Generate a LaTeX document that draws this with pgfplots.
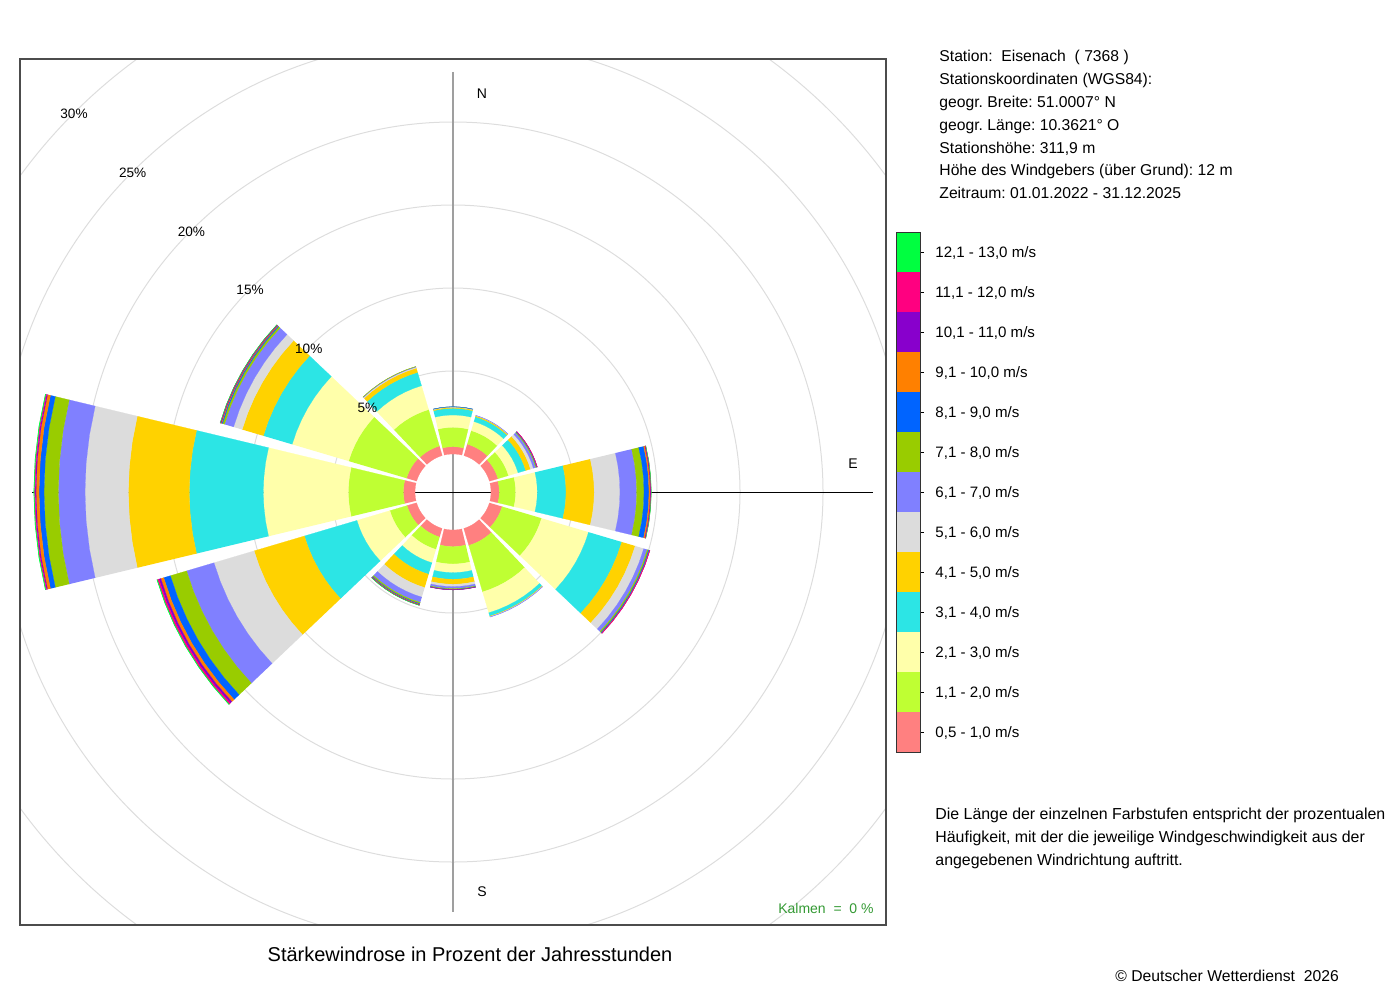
\documentclass[border=0pt]{standalone}
\usepackage{fontspec}
\setmainfont{Liberation Sans}
\usepackage{pgfplots}
\usepackage{pgfplotstable}
\pgfplotsset{compat=1.18}

\definecolor{wc1}{HTML}{FF8080}
\definecolor{wc2}{HTML}{BFFF33}
\definecolor{wc3}{HTML}{FFFFAA}
\definecolor{wc4}{HTML}{2CE5E5}
\definecolor{wc5}{HTML}{FFD200}
\definecolor{wc6}{HTML}{DCDCDC}
\definecolor{wc7}{HTML}{8080FF}
\definecolor{wc8}{HTML}{99CC00}
\definecolor{wc9}{HTML}{0064FF}
\definecolor{wc10}{HTML}{FF8000}
\definecolor{wc11}{HTML}{8800CC}
\definecolor{wc12}{HTML}{FF0080}
\definecolor{wc13}{HTML}{00FF40}
\definecolor{ringgray}{HTML}{DDDDDD}
\definecolor{kalmgreen}{HTML}{339933}

% percentage of hours per direction (compass degrees) and speed class
\pgfplotstableread{
dir c1   c2   c3   c4   c5   c6   c7   c8    c9    c10  c11   c12   c13
0   0.44 1.17 0.74 0.40 0.06 0.02 0.01 0.005 0.005 0    0     0     0
30  0.72 0.85 0.57 0.30 0.07 0.01 0.01 0     0     0    0     0     0
60  0.54 0.66 0.60 0.48 0.30 0.18 0.15 0.05  0.03  0.01 0.005 0.005 0
90  0.50 0.99 1.30 1.73 1.70 1.55 1.01 0.44  0.30  0.08 0.03  0.02  0.01
120 0.80 2.48 2.95 2.09 0.84 0.54 0.22 0.08  0.05  0.02 0.01  0.01  0
150 1.07 2.92 1.31 0.21 0.03 0.02 0.01 0     0     0    0     0     0
180 1.00 1.05 0.52 0.40 0.30 0.14 0.12 0.04  0.02  0.01 0.01  0     0
210 0.54 0.78 0.84 0.72 0.84 0.60 0.33 0.08  0.04  0.03 0.02  0.01  0.01
240 0.60 1.08 2.07 3.30 3.16 2.52 1.72 1.02  0.42  0.18 0.12  0.10  0.03
270 0.70 3.32 5.12 4.46 3.67 2.61 1.61 0.86  0.30  0.18 0.06  0.05  0.03
300 0.63 3.64 3.55 1.81 1.33 0.54 0.57 0.12  0.06  0.04 0.03  0.02  0.01
330 0.60 2.29 1.50 0.84 0.27 0.06 0.03 0.01  0     0    0     0     0
}\windtable

\def\rzero{38}
\def\rscale{16.6}
\def\halfw{13.5}

% builds one annular band of a sector as an \addplot and appends it to \allplots
\newcommand{\makeband}[4]{%
  \gdef\bandpts{}%
  \foreach \k in {0,1,2,3,4,5,6}{%
    \pgfmathsetmacro\myang{#1-\halfw+4.5*\k}%
    \pgfmathsetmacro\px{#3*sin(\myang)}%
    \pgfmathsetmacro\py{#3*cos(\myang)}%
    \xdef\bandpts{\bandpts (\px,\py)}%
  }%
  \foreach \k in {6,5,4,3,2,1,0}{%
    \pgfmathsetmacro\myang{#1-\halfw+4.5*\k}%
    \pgfmathsetmacro\px{#2*sin(\myang)}%
    \pgfmathsetmacro\py{#2*cos(\myang)}%
    \xdef\bandpts{\bandpts (\px,\py)}%
  }%
  \xdef\allplots{\unexpanded\expandafter{\allplots}\noexpand\addplot[fill=#4, draw=#4, line width=0.1pt, forget plot] coordinates {\bandpts};}%
}

\gdef\allplots{}
\foreach \i in {0,...,11}{%
  \edef\tmpget{\noexpand\pgfplotstablegetelem{\i}{dir}\noexpand\of\noexpand\windtable}\tmpget
  \xdef\dir{\pgfplotsretval}%
  \gdef\cum{0}%
  \foreach \j in {1,...,13}{%
    \edef\tmpget{\noexpand\pgfplotstablegetelem{\i}{c\j}\noexpand\of\noexpand\windtable}\tmpget
    \xdef\val{\pgfplotsretval}%
    \ifdim\val pt>0pt
      \pgfmathsetmacro\rin{\rzero+\rscale*\cum}%
      \pgfmathsetmacro\newcum{\cum+\val}%
      \xdef\cum{\newcum}%
      \pgfmathsetmacro\rout{\rzero+\rscale*\cum}%
      \makeband{\dir}{\rin}{\rout}{wc\j}%
    \fi
  }%
}

\begin{document}\frenchspacing
\begin{tikzpicture}[x=0.5pt,y=-0.5pt]
\path[use as bounding box] (0,0) rectangle (1400,1000);

% rings
\begin{scope}
\clip (20,59) rectangle (886,925);
\foreach \r in {121,204,287,370,453,536}{%
  \draw[ringgray, line width=0.5pt] (453,492) circle[radius=\r*0.5pt];}
\end{scope}
% axes lines
\draw[gray!75, line width=0.75pt] (453,72) -- (453,912);
\draw[black, line width=0.5pt] (32,492) -- (873,492);

\begin{axis}[at={(10pt,-462.5pt)}, anchor=south west,
  width=433pt, height=433pt, scale only axis,
  xmin=-433, xmax=433, ymin=-433, ymax=433,
  hide axis, clip=false]
\allplots
\end{axis}

% frame
\draw[gray!60!black, line width=0.6pt] (20,59) rectangle (886,925);

% ring labels
\foreach \r/\t in {121/5,204/10,287/15,370/20,453/25,536/30}{%
  \node[font=\fontsize{6.8}{8}\selectfont, inner sep=0pt] at ({453-0.7071*\r},{492-0.7071*\r+1}) {\t\%};}

% direction labels
\node[font=\fontsize{7}{8}\selectfont, inner sep=0pt] at (482,94) {N};
\node[font=\fontsize{7}{8}\selectfont, inner sep=0pt] at (482,892) {S};
\node[font=\fontsize{7}{8}\selectfont, inner sep=0pt] at (853,464) {E};

\node[font=\fontsize{7}{8}\selectfont, text=kalmgreen, inner sep=0pt, anchor=base east] at (874,913) {Kalmen\ \ =\ \ 0 \%};

% title
\node[font=\fontsize{10}{12}\selectfont, inner sep=0pt, anchor=base] at (470,961) {Stärkewindrose in Prozent der Jahresstunden};

% station info
\begin{scope}[every node/.style={font=\fontsize{7.85}{9}\selectfont, inner sep=0pt, anchor=base west}]
\node at (939,61.5) {Station:\ \ Eisenach\ \ ( 7368 )};
\node at (939,84.4) {Stationskoordinaten (WGS84):};
\node at (939,107.3) {geogr. Breite: 51.0007° N};
\node at (939,130.2) {geogr. Länge: 10.3621° O};
\node at (939,153.1) {Stationshöhe: 311,9 m};
\node at (939,176.0) {Höhe des Windgebers (über Grund): 12 m};
\node at (939,198.9) {Zeitraum: 01.01.2022 - 31.12.2025};
\node at (1115,981.5) {© Deutscher Wetterdienst\ \ 2026};
\end{scope}
\begin{scope}[every node/.style={font=\fontsize{7.95}{9}\selectfont, inner sep=0pt, anchor=base west}]
\node at (935,819.5) {Die Länge der einzelnen Farbstufen entspricht der prozentualen};
\node at (935,842.5) {Häufigkeit, mit der die jeweilige Windgeschwindigkeit aus der};
\node at (935,865.5) {angegebenen Windrichtung auftritt.};
\end{scope}

% colour key
\foreach \k/\lab in {13/{12,1 - 13,0 m/s},12/{11,1 - 12,0 m/s},11/{10,1 - 11,0 m/s},10/{9,1 - 10,0 m/s},9/{8,1 - 9,0 m/s},8/{7,1 - 8,0 m/s},7/{6,1 - 7,0 m/s},6/{5,1 - 6,0 m/s},5/{4,1 - 5,0 m/s},4/{3,1 - 4,0 m/s},3/{2,1 - 3,0 m/s},2/{1,1 - 2,0 m/s},1/{0,5 - 1,0 m/s}}{%
  \pgfmathsetmacro\ytop{232+40*(13-\k)}
  \fill[wc\k] (896,\ytop) rectangle (920,\ytop+40);
  \draw[black, line width=0.4pt] (920,\ytop+20) -- (924,\ytop+20);
  \node[font=\fontsize{7.55}{9}\selectfont, inner sep=0pt, anchor=base west] at (935,\ytop+25.4) {\lab};
}
\draw[gray!40!black, line width=0.5pt] (896,232) rectangle (920,752);
\end{tikzpicture}
\end{document}
